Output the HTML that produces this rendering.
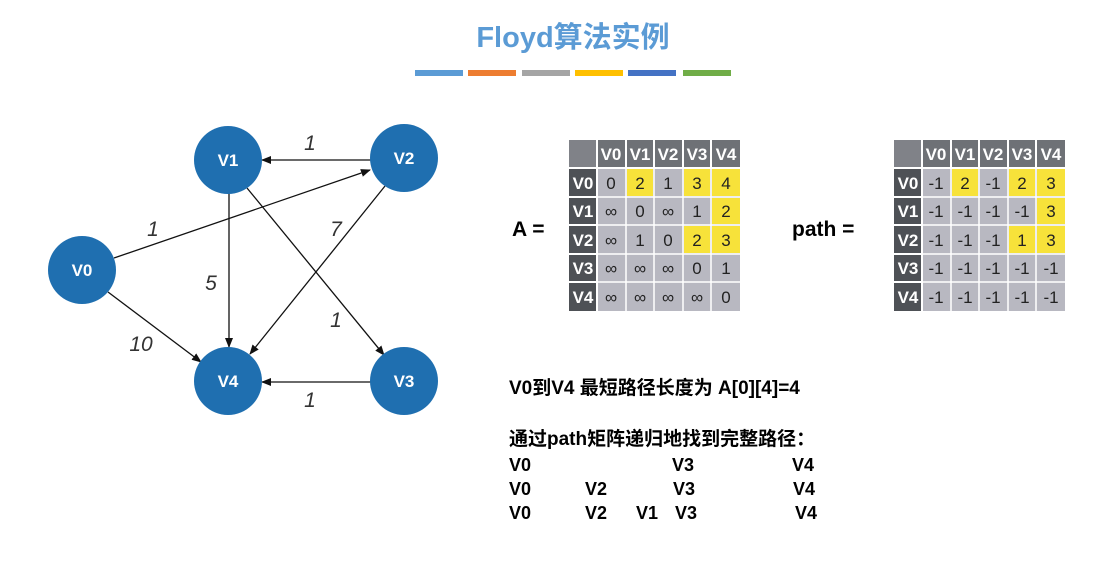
<!DOCTYPE html>
<html><head><meta charset="utf-8"><style>
html,body{margin:0;padding:0;background:#fff;width:1116px;height:561px;overflow:hidden}
svg{display:block}
.h{fill:#fff;font:bold 17px "Liberation Sans",sans-serif;text-anchor:middle}
.c{fill:#222;font:17px "Liberation Sans",sans-serif;text-anchor:middle}
.n{fill:#fff;font:bold 17px "Liberation Sans",sans-serif;text-anchor:middle}
.w{fill:#333;font:italic 21px "Liberation Sans",sans-serif;text-anchor:middle}
.t{fill:#000;font:bold 18px "Liberation Sans","Noto Sans CJK SC",sans-serif}
.t2{fill:#000;font:bold 19px "Liberation Sans","Noto Sans CJK SC",sans-serif}
</style></head><body>
<svg width="1116" height="561" xmlns="http://www.w3.org/2000/svg">
<defs><marker id="a" markerWidth="10" markerHeight="8" refX="9" refY="4" orient="auto" markerUnits="userSpaceOnUse"><path d="M0,0 L10,4 L0,8 z" fill="#111"/></marker></defs>
<text x="573" y="47" style="fill:#5b9bd5;font:bold 29px 'Liberation Sans','Noto Sans CJK SC',sans-serif" text-anchor="middle">Floyd算法实例</text>
<rect x="415" y="70" width="48" height="6" fill="#5b9bd5"/><rect x="468" y="70" width="48" height="6" fill="#ed7d31"/><rect x="522" y="70" width="48" height="6" fill="#a5a5a5"/><rect x="575" y="70" width="48" height="6" fill="#ffc000"/><rect x="628" y="70" width="48" height="6" fill="#4472c4"/><rect x="683" y="70" width="48" height="6" fill="#70ad47"/>
<g stroke="#111" stroke-width="1.3" fill="none" marker-end="url(#a)">
<line x1="371" y1="160" x2="262" y2="160"/>
<line x1="114" y1="258" x2="370" y2="170"/>
<line x1="229" y1="193" x2="229" y2="347"/>
<line x1="385" y1="186" x2="250" y2="354"/>
<line x1="247" y1="188" x2="384" y2="355"/>
<line x1="108" y1="292" x2="201" y2="362"/>
<line x1="371" y1="382" x2="262" y2="382"/>
</g>
<text class="w" x="310" y="150">1</text><text class="w" x="153" y="236">1</text><text class="w" x="211" y="290">5</text><text class="w" x="336" y="236">7</text><text class="w" x="336" y="327">1</text><text class="w" x="141" y="351">10</text><text class="w" x="310" y="407">1</text>
<g fill="#1f6fb0"><circle cx="82" cy="270" r="34"/><circle cx="228" cy="160" r="34"/><circle cx="404" cy="158" r="34"/><circle cx="228" cy="381" r="34"/><circle cx="404" cy="381" r="34"/></g>
<text class="n" x="82" y="276">V0</text><text class="n" x="228" y="166">V1</text><text class="n" x="404" y="164">V2</text><text class="n" x="228" y="387">V4</text><text class="n" x="404" y="387">V3</text>
<text x="512" y="236" style="font:bold 21px 'Liberation Sans',sans-serif">A =</text>
<text x="792" y="236" style="font:bold 21px 'Liberation Sans',sans-serif">path =</text>
<g id="ta">
<rect x="569" y="140" width="27" height="27" fill="#808288"/>
<g fill="#6e7176"><rect x="598" y="140" width="27" height="27"/><rect x="627" y="140" width="26" height="27"/><rect x="655" y="140" width="27" height="27"/><rect x="684" y="140" width="26" height="27"/><rect x="712" y="140" width="28" height="27"/></g>
<g fill="#4e5156"><rect x="569" y="169" width="27" height="27"/><rect x="569" y="198" width="27" height="26"/><rect x="569" y="226" width="27" height="27"/><rect x="569" y="255" width="27" height="26"/><rect x="569" y="283" width="27" height="28"/></g>
<rect x="598" y="169" width="142" height="142" fill="#b8b8c1"/>
<g stroke="#fff" stroke-width="1.5"><line x1="626" y1="169" x2="626" y2="311"/><line x1="654" y1="169" x2="654" y2="311"/><line x1="683" y1="169" x2="683" y2="311"/><line x1="711" y1="169" x2="711" y2="311"/><line x1="598" y1="197" x2="740" y2="197"/><line x1="598" y1="225" x2="740" y2="225"/><line x1="598" y1="254" x2="740" y2="254"/><line x1="598" y1="282" x2="740" y2="282"/></g>
</g>
<g fill="#f7e23a"><rect x="627" y="169" width="26" height="27"/><rect x="684" y="169" width="26" height="27"/><rect x="712" y="169" width="28" height="27"/><rect x="712" y="198" width="28" height="26"/><rect x="684" y="226" width="26" height="27"/><rect x="712" y="226" width="28" height="27"/></g>
<g class="h"><text x="611" y="160">V0</text><text x="640" y="160">V1</text><text x="668" y="160">V2</text><text x="697" y="160">V3</text><text x="726" y="160">V4</text>
<text x="583" y="189">V0</text><text x="583" y="217">V1</text><text x="583" y="246">V2</text><text x="583" y="274">V3</text><text x="583" y="303">V4</text></g>
<g class="c">
<text x="611" y="189">0</text><text x="640" y="189">2</text><text x="668" y="189">1</text><text x="697" y="189">3</text><text x="726" y="189">4</text>
<text x="611" y="217">∞</text><text x="640" y="217">0</text><text x="668" y="217">∞</text><text x="697" y="217">1</text><text x="726" y="217">2</text>
<text x="611" y="246">∞</text><text x="640" y="246">1</text><text x="668" y="246">0</text><text x="697" y="246">2</text><text x="726" y="246">3</text>
<text x="611" y="274">∞</text><text x="640" y="274">∞</text><text x="668" y="274">∞</text><text x="697" y="274">0</text><text x="726" y="274">1</text>
<text x="611" y="303">∞</text><text x="640" y="303">∞</text><text x="668" y="303">∞</text><text x="697" y="303">∞</text><text x="726" y="303">0</text>
</g>
<use href="#ta" x="325"/>
<g fill="#f7e23a"><rect x="952" y="169" width="26" height="27"/><rect x="1009" y="169" width="26" height="27"/><rect x="1037" y="169" width="28" height="27"/><rect x="1037" y="198" width="28" height="26"/><rect x="1009" y="226" width="26" height="27"/><rect x="1037" y="226" width="28" height="27"/></g>
<g class="h"><text x="936" y="160">V0</text><text x="965" y="160">V1</text><text x="993" y="160">V2</text><text x="1022" y="160">V3</text><text x="1051" y="160">V4</text>
<text x="908" y="189">V0</text><text x="908" y="217">V1</text><text x="908" y="246">V2</text><text x="908" y="274">V3</text><text x="908" y="303">V4</text></g>
<g class="c">
<text x="936" y="189">-1</text><text x="965" y="189">2</text><text x="993" y="189">-1</text><text x="1022" y="189">2</text><text x="1051" y="189">3</text>
<text x="936" y="217">-1</text><text x="965" y="217">-1</text><text x="993" y="217">-1</text><text x="1022" y="217">-1</text><text x="1051" y="217">3</text>
<text x="936" y="246">-1</text><text x="965" y="246">-1</text><text x="993" y="246">-1</text><text x="1022" y="246">1</text><text x="1051" y="246">3</text>
<text x="936" y="274">-1</text><text x="965" y="274">-1</text><text x="993" y="274">-1</text><text x="1022" y="274">-1</text><text x="1051" y="274">-1</text>
<text x="936" y="303">-1</text><text x="965" y="303">-1</text><text x="993" y="303">-1</text><text x="1022" y="303">-1</text><text x="1051" y="303">-1</text>
</g>
<g class="t2">
<text x="509" y="394">V0到V4 最短路径长度为 A[0][4]=4</text>
<text x="509" y="445">通过path矩阵递归地找到完整路径：</text>
</g>
<g class="t">
<text x="509" y="471">V0</text><text x="672" y="471">V3</text><text x="792" y="471">V4</text>
<text x="509" y="495">V0</text><text x="585" y="495">V2</text><text x="673" y="495">V3</text><text x="793" y="495">V4</text>
<text x="509" y="519">V0</text><text x="585" y="519">V2</text><text x="636" y="519">V1</text><text x="675" y="519">V3</text><text x="795" y="519">V4</text>
</g>
</svg>
</body></html>
